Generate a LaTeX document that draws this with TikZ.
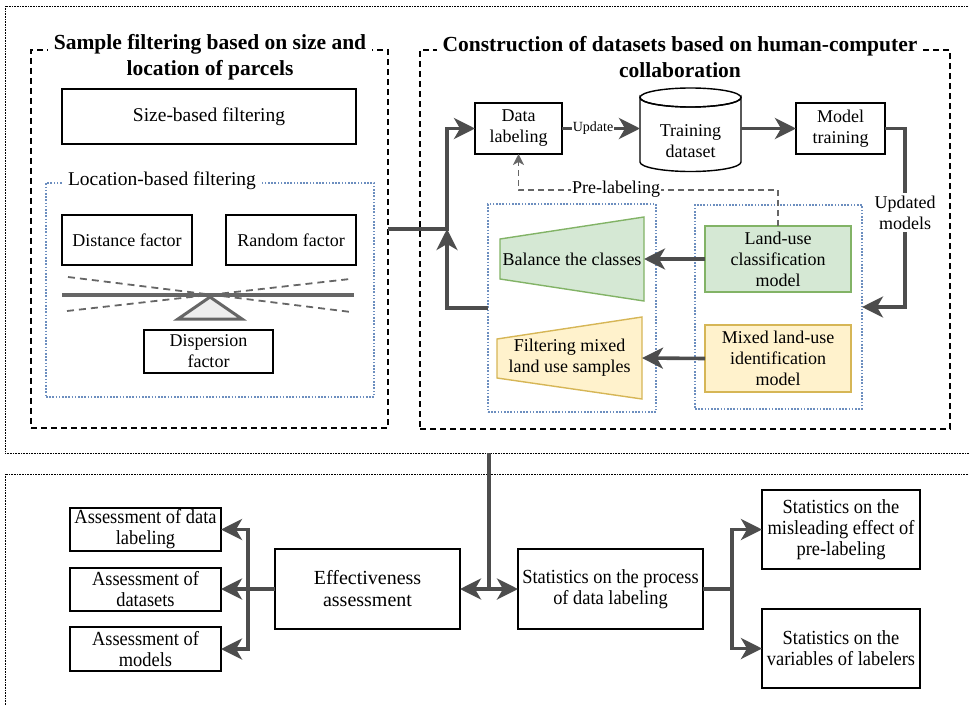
\documentclass[tikz,border=0pt]{standalone}
\usepackage{fontspec}
\setmainfont{Liberation Serif}
\newfontfamily\condfont[FakeStretch=0.92]{Liberation Serif}
\usetikzlibrary{arrows.meta}
\definecolor{arrowgray}{HTML}{4D4D4D}
\definecolor{midgray}{HTML}{666666}
\definecolor{trifill}{HTML}{EEEEEE}
\definecolor{blueline}{HTML}{6C8EBF}
\definecolor{greenfill}{HTML}{D5E8D4}
\definecolor{greenline}{HTML}{82B366}
\definecolor{yellowfill}{HTML}{FFF2CC}
\definecolor{yellowline}{HTML}{D6B656}
\newcommand\fsz[2]{\fontsize{#1}{#2}\selectfont}
\tikzset{
  bx/.style={draw=black, line width=1.4pt, align=center, inner sep=0pt, outer sep=0pt, font=\fsz{18}{21}},
  bbx/.style={bx, font=\condfont\fsz{20}{21}},
  secbox/.style={draw=black, line width=1.4pt, dash pattern=on 6pt off 4pt, inner sep=0pt, outer sep=0pt},
  outerbox/.style={draw=black, line width=0.8pt, dash pattern=on 0.8pt off 0.8pt, inner sep=0pt, outer sep=0pt},
  bluebox/.style={draw=blueline, line width=1.6pt, dash pattern=on 1.6pt off 1.6pt, inner sep=0pt, outer sep=0pt},
  ttl/.style={fill=white, align=center, inner xsep=6pt, inner ysep=2pt, font=\bfseries\fsz{21.5}{26}},
  arr/.style={draw=arrowgray, line width=3.6pt, -{Stealth[length=21pt,width=21pt,inset=6pt]}},
  ln/.style={draw=arrowgray, line width=3.6pt},
  darr/.style={draw=arrowgray, line width=3.6pt, {Stealth[length=21pt,width=21pt,inset=6pt]}-{Stealth[length=21pt,width=21pt,inset=6pt]}},
  prearr/.style={draw=midgray, line width=1.5pt, dash pattern=on 6pt off 4pt, -{Stealth[length=11pt,width=11pt,inset=3pt]}},
  lbl/.style={fill=white, inner sep=1pt, align=center, font=\fsz{18}{21}},
  seedash/.style={draw=midgray, line width=1.8pt, dash pattern=on 7pt off 5pt},
  beam/.style={draw=midgray, line width=4pt},
  fulcrum/.style={draw=midgray, fill=trifill, line width=3pt, line join=miter},
  txt/.style={inner sep=0pt, outer sep=0pt, align=center, font=\fsz{18}{21}}
}
\begin{document}
\begin{tikzpicture}[x=1pt,y=-1pt]
\path[use as bounding box, clip] (0,0) rectangle (969,704);

% outer frames
\node[outerbox, minimum width=970, minimum height=447, anchor=north west] (topouter) at (5,6) {};
\node[outerbox, minimum width=970, minimum height=260, anchor=north west] (botouter) at (5,474) {};

% section boxes
\node[secbox, minimum width=357, minimum height=378] (leftsec) at (209.5,239) {};
\node[secbox, minimum width=530, minimum height=379] (rightsec) at (685,239.5) {};
\node[ttl] (t1) at (210,57) {Sample filtering based on size and\\location of parcels};
\node[ttl] (t2) at (680,57) {Construction of datasets based on human-computer\\collaboration};

% left section content
\node[bx, minimum width=294, minimum height=55, font=\fsz{19.5}{22}] (sizef) at (209,116.5) {Size-based filtering};
\node[bluebox, minimum width=328, minimum height=214] (locbox) at (210,290) {};
\node[lbl, inner xsep=6pt, font=\fsz{19.5}{22}] (loclbl) at (162,181) {Location-based filtering};
\node[bx, minimum width=130, minimum height=50] (dist) at (127,240) {Distance factor};
\node[bx, minimum width=130, minimum height=50] (rand) at (291,240) {Random factor};
\draw[seedash] (68,277) -- (351,312);
\draw[seedash] (67,311) -- (350,279);
\draw[beam] (62,295) -- (354,295);
\draw[fulcrum] (210,297) -- (242,319) -- (178,319) -- cycle;
\node[bx, minimum width=129, minimum height=43] (disp) at (208.5,351.5) {Dispersion\\factor};

% right section content
\node[bx, minimum width=87, minimum height=51] (dl) at (518.5,128.5) {Data\\labeling};
\node[bx, minimum width=89, minimum height=51] (mt) at (840.5,128.5) {Model\\training};
% cylinder
\filldraw[draw=black, fill=white, line width=1.4pt] (640,97.5) -- (640,162) arc[start angle=180, end angle=0, x radius=50.5, y radius=9.5] -- (741,97.5) arc[start angle=0, end angle=180, x radius=50.5, y radius=9.5] -- cycle;
\draw[black, line width=1.4pt] (690.5,97.5) ellipse [x radius=50.5, y radius=9.5];
\node[txt, minimum width=101, minimum height=60] (cyl) at (690.5,141) {Training\\dataset};

\node[bluebox, minimum width=168, minimum height=208] (lblue) at (572,308) {};
\node[bluebox, minimum width=167, minimum height=204] (rblue) at (778.5,307) {};
\node[bx, draw=greenline, fill=greenfill, line width=1.4pt, minimum width=146, minimum height=66] (green) at (778,259) {Land-use\\classification\\model};
\node[bx, draw=yellowline, fill=yellowfill, line width=1.4pt, minimum width=146, minimum height=67] (yellow) at (778,358.5) {Mixed land-use\\identification\\model};
\filldraw[draw=greenline, fill=greenfill, line width=1.4pt] (500,239) -- (644,217) -- (644,301) -- (500,279) -- cycle;
\filldraw[draw=yellowline, fill=yellowfill, line width=1.4pt] (497,339) -- (642,317) -- (642,399) -- (497,378) -- cycle;
\node[txt, minimum width=144, minimum height=84] (balance) at (572,259) {Balance the classes};
\node[txt, minimum width=145, minimum height=82] (filtmix) at (569.5,358) {Filtering mixed\\land use samples};

% connectors (top)
\coordinate (jn) at (447,229);
\coordinate (umx) at (905,128.5);
\coordinate (prey) at (778,190);
\draw[arr] (leftsec.east |- jn) -- (jn) |- (dl.west);
\draw[arr] (lblue.west) -| (jn);
\draw[arr] (dl.east) -- (dl.east -| cyl.west);
\node[lbl, font=\fsz{14}{16}] (upd) at (593,128.5) {Update};
\draw[arr] (cyl.east |- mt.west) -- (mt.west);
\draw[arr] (mt.east) -- (umx) -- (umx |- rblue.east) -- (rblue.east);
\node[lbl, inner sep=3pt] (updm) at (905,212.5) {Updated\\models};
\draw[arr] (green.west) -- (balance.east);
\draw[arr] (yellow.west) -- (filtmix.east);
\draw[prearr] (green.north) -- (prey) -- (prey -| dl.south) -- (dl.south);
\node[lbl] (prel) at (616,189) {Pre-labeling};

% bottom section
\node[bbx, minimum width=151, minimum height=43] (a1) at (145.5,529.5) {Assessment of data\\labeling};
\node[bbx, minimum width=151, minimum height=43] (a2) at (145.5,589.5) {Assessment of\\datasets};
\node[bbx, minimum width=151, minimum height=44] (a3) at (145.5,649) {Assessment of\\models};
\node[bbx, font=\fsz{20}{22}, minimum width=185, minimum height=80] (eff) at (367.5,589) {Effectiveness\\assessment};
\node[bbx, minimum width=185, minimum height=80] (stat) at (610.5,589) {Statistics on the process\\of data labeling};
\node[bbx, minimum width=158, minimum height=79] (s1) at (841,529.5) {Statistics on the\\misleading effect of\\pre-labeling};
\node[bbx, minimum width=158, minimum height=79] (s2) at (841,648.5) {Statistics on the\\variables of labelers};

\coordinate (vtop) at (489,453);
\coordinate (lbus) at (248,589);
\coordinate (rbus) at (732,589);
\draw[ln] (vtop) -- (vtop |- eff.east);
\draw[darr] (eff.east) -- (stat.west);
\draw[arr] (eff.west) -- (lbus) |- (a1.east);
\draw[arr] (lbus) |- (a3.east);
\draw[arr] (lbus) -- (lbus -| a2.east);
\draw[arr] (stat.east) -- (rbus) |- (s1.west);
\draw[arr] (rbus) |- (s2.west);
\end{tikzpicture}
\end{document}
